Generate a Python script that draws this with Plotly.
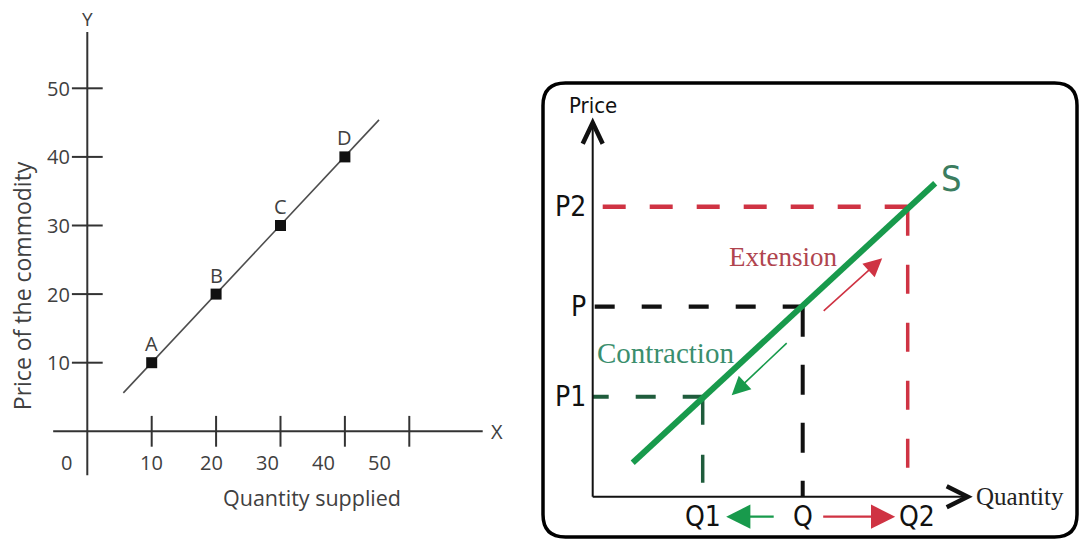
import plotly.graph_objects as go

# ---------------- Left panel: supply schedule ----------------
quantity = [10, 20, 30, 40]
price = [10, 20, 30, 40]
point_labels = ["A", "B", "C", "D"]
supply_line_q = [5.6, 45.3]
supply_line_p = [5.6, 45.4]
x_ticks = [10, 20, 30, 40, 50]
x_tick_labels = ["10", "20", "30", "40", "50"]
y_ticks = [10, 20, 30, 40, 50]
y_tick_labels = ["10", "20", "30", "40", "50"]

# ---------------- Right panel: movement along the supply curve ----------------
s_curve_q = [0.8, 6.85]
s_curve_p = [0.68, 6.27]
level_q = [2.2, 4.2, 6.3]      # Q1, Q, Q2
level_p = [2.0, 3.8, 5.8]      # P1, P, P2
level_q_labels = ["Q1", "Q", "Q2"]
level_p_labels = ["P1", "P", "P2"]

# ---------------- styles ----------------
GREY_TXT = "#404040"
LEFT_FONT = "Open Sans, DejaVu Sans, sans-serif"
NARROW = "DejaVu Sans Condensed, Roboto, sans-serif"
SERIF = "Liberation Serif, DejaVu Serif, serif"
S_GREEN = "#189a4c"
DARK_GREEN = "#1f5c3c"
RED = "#cf3343"
level_colors = [DARK_GREEN, "#111111", RED]
h_dash = ["20px,27px", "20px,27px", "23px,24px"]
v_dash = ["28px,30px", "30px,28px", "29px,29px"]
h_width = [4, 4.2, 4.5]
v_width = [3.5, 4, 3.5]

fig = go.Figure()

# ---- left panel traces ----
fig.add_trace(go.Scatter(x=supply_line_q, y=supply_line_p, mode="lines",
                         line=dict(color="#4d4d4d", width=1.6),
                         xaxis="x", yaxis="y", hoverinfo="skip"))
fig.add_trace(go.Scatter(x=quantity, y=price, mode="markers",
                         marker=dict(symbol="square", size=11, color="#111111"),
                         xaxis="x", yaxis="y"))
fig.add_trace(go.Scatter(x=x_ticks, y=[0] * len(x_ticks), mode="markers",
                         marker=dict(symbol="line-ns", size=22,
                                     line=dict(color="#333333", width=2)),
                         xaxis="x", yaxis="y", hoverinfo="skip"))
fig.add_trace(go.Scatter(x=[0] * len(y_ticks), y=y_ticks, mode="markers",
                         marker=dict(symbol="line-ew", size=22,
                                     line=dict(color="#333333", width=2)),
                         xaxis="x", yaxis="y", hoverinfo="skip"))

# ---- right panel traces: dashed level guides ----
for i in range(3):
    fig.add_trace(go.Scatter(x=[level_q[i], 0], y=[level_p[i], level_p[i]], mode="lines",
                             line=dict(color=level_colors[i], width=h_width[i], dash=h_dash[i]),
                             xaxis="x2", yaxis="y2", hoverinfo="skip"))
    fig.add_trace(go.Scatter(x=[level_q[i], level_q[i]], y=[level_p[i], 0], mode="lines",
                             line=dict(color=level_colors[i], width=v_width[i], dash=v_dash[i]),
                             xaxis="x2", yaxis="y2", hoverinfo="skip"))

fig.add_trace(go.Scatter(x=s_curve_q, y=s_curve_p, mode="lines",
                         line=dict(color=S_GREEN, width=6),
                         xaxis="x2", yaxis="y2", hoverinfo="skip"))

shapes = []
# left axes
shapes.append(dict(type="line", xref="x", yref="y", x0=-5.3, x1=61.4, y0=0, y1=0,
                   line=dict(color="#333333", width=2)))
shapes.append(dict(type="line", xref="x", yref="y", x0=0, x1=0, y0=-6.4, y1=58.2,
                   line=dict(color="#333333", width=2)))
# right axes
shapes.append(dict(type="line", xref="x2", yref="y2", x0=0, x1=0, y0=0, y1=7.45,
                   line=dict(color="#111111", width=2)))
shapes.append(dict(type="line", xref="x2", yref="y2", x0=0, x1=7.45, y0=0, y1=0,
                   line=dict(color="#111111", width=2)))
shapes.append(dict(type="path", xref="x2", yref="y2",
                   path="M -0.2,7.06 L 0,7.48 L 0.2,7.06",
                   line=dict(color="#111111", width=4.5)))
shapes.append(dict(type="path", xref="x2", yref="y2",
                   path="M 7.08,0.21 L 7.5,0 L 7.08,-0.21",
                   line=dict(color="#111111", width=4.5)))
# rounded frame
L, R, T, B, r = -0.994, 9.686, 8.274, -0.806, 0.45
frame = (f"M {L+r},{T} L {R-r},{T} Q {R},{T} {R},{T-r} L {R},{B+r} Q {R},{B} {R-r},{B} "
         f"L {L+r},{B} Q {L},{B} {L},{B+r} L {L},{T-r} Q {L},{T} {L+r},{T} Z")
shapes.append(dict(type="path", xref="x2", yref="y2", path=frame,
                   line=dict(color="#000000", width=3.5)))

ann = []
# left panel text
for q, p, lab in zip(quantity, price, point_labels):
    ann.append(dict(x=q, y=p, xref="x", yref="y", text=lab, showarrow=False,
                    yshift=19, font=dict(family=LEFT_FONT, size=20, color=GREY_TXT)))
x_label_shift = [0, -5, -13, -21, -30]
for t, lab, sh in zip(x_ticks, x_tick_labels, x_label_shift):
    ann.append(dict(x=t, y=0, xref="x", yref="y", text=lab, showarrow=False,
                    xshift=sh, yshift=-31, font=dict(family=LEFT_FONT, size=20, color=GREY_TXT)))
for t, lab in zip(y_ticks, y_tick_labels):
    ann.append(dict(x=0, y=t, xref="x", yref="y", text=lab, showarrow=False,
                    xanchor="right", xshift=-15, font=dict(family=LEFT_FONT, size=20, color=GREY_TXT)))
ann.append(dict(x=0, y=0, xref="x", yref="y", text="0", showarrow=False,
                xshift=-21, yshift=-31, font=dict(family=LEFT_FONT, size=20, color=GREY_TXT)))
ann.append(dict(x=0, y=58.2, xref="x", yref="y", text="Y", showarrow=False,
                yshift=13, font=dict(family=LEFT_FONT, size=19, color=GREY_TXT)))
ann.append(dict(x=61.4, y=0, xref="x", yref="y", text="X", showarrow=False,
                xanchor="left", xshift=6, font=dict(family=LEFT_FONT, size=20, color=GREY_TXT)))
ann.append(dict(x=0, y=21.2, xref="x", yref="y", text="Price of the commodity", showarrow=False,
                textangle=-90, xshift=-65, font=dict(family=LEFT_FONT, size=23, color=GREY_TXT)))
ann.append(dict(x=34.9, y=0, xref="x", yref="y", text="Quantity supplied", showarrow=False,
                yshift=-66, font=dict(family=LEFT_FONT, size=21.5, color=GREY_TXT)))

# right panel text
for p, lab in zip(level_p, level_p_labels):
    ann.append(dict(x=0, y=p, xref="x2", yref="y2", text=lab, showarrow=False,
                    xanchor="right", xshift=-5, font=dict(family=NARROW, size=28, color="#111111")))
q_label_shift = [0, 0, 9]
for q, lab, sh in zip(level_q, level_q_labels, q_label_shift):
    ann.append(dict(x=q, y=0, xref="x2", yref="y2", text=lab, showarrow=False,
                    xshift=sh, yshift=-20, font=dict(family=NARROW, size=28, color="#111111")))
ann.append(dict(x=0, y=7.48, xref="x2", yref="y2", text="Price", showarrow=False,
                yshift=17, font=dict(family=NARROW, size=22, color="#111111")))
ann.append(dict(x=7.5, y=0, xref="x2", yref="y2", text="Quantity", showarrow=False,
                xanchor="left", xshift=6, font=dict(family=SERIF, size=25, color="#222222")))
ann.append(dict(x=s_curve_q[1], y=s_curve_p[1], xref="x2", yref="y2", text="S", showarrow=False,
                xanchor="left", xshift=4, yshift=5, font=dict(family=NARROW, size=36, color="#3b7d60")))
ann.append(dict(x=3.81, y=4.79, xref="x2", yref="y2", text="Extension", showarrow=False,
                font=dict(family=SERIF, size=27, color="#b0444e")))
ann.append(dict(x=1.45, y=2.87, xref="x2", yref="y2", text="Contraction", showarrow=False,
                font=dict(family=SERIF, size=29, color="#3a8e6d")))

# movement arrows
arrow_specs = [
    # (tail_q, tail_p, head_q, head_p, color, width, size)
    (4.59, 3.69, 5.79, 4.77, RED, 1.6, 2.3),
    (3.91, 3.10, 2.78, 2.03, S_GREEN, 1.6, 2.3),
    (level_q[1] - 0.55, -0.4, level_q[0] + 0.47, -0.4, S_GREEN, 2.2, 2.2),
    (level_q[1] + 0.38, -0.4, level_q[2] - 0.25, -0.4, RED, 2.2, 2.2),
]
for tq, tp, hq, hp, col, w, s in arrow_specs:
    ann.append(dict(x=hq, y=hp, ax=tq, ay=tp, xref="x2", yref="y2", axref="x2", ayref="y2",
                    text="", showarrow=True, arrowhead=2, arrowsize=s, arrowwidth=w,
                    arrowcolor=col))

fig.update_layout(
    width=1079, height=540, autosize=False,
    margin=dict(l=0, r=0, t=0, b=0),
    paper_bgcolor="white", plot_bgcolor="white",
    showlegend=False,
    xaxis=dict(domain=[0, 0.5], range=[-13.556, 70.22], visible=False, fixedrange=True),
    yaxis=dict(domain=[0, 1], range=[-15.845, 62.872], visible=False, fixedrange=True),
    xaxis2=dict(domain=[0.5, 1], range=[-1.064, 9.726], visible=False, fixedrange=True, anchor="y2"),
    yaxis2=dict(domain=[0, 1], range=[-0.866, 9.934], visible=False, fixedrange=True, anchor="x2"),
    shapes=shapes,
    annotations=ann,
)

fig.write_html("out.html", config={"displayModeBar": False},
               post_script="document.body.style.margin='0';document.body.style.overflow='hidden';")
